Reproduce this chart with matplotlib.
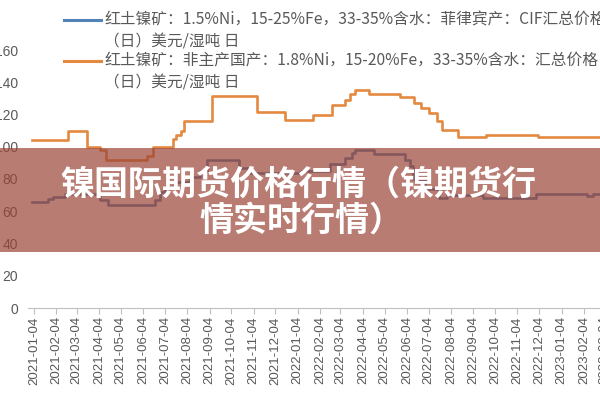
import matplotlib
matplotlib.use('Agg')
import matplotlib.pyplot as plt
import matplotlib.dates as mdates
from matplotlib.lines import Line2D
from matplotlib.patches import Rectangle
import pandas as pd

plt.rcParams['font.family'] = ['Liberation Sans', 'Noto Sans CJK SC', 'DejaVu Sans']

# step series (date where a new level starts, level)
ph_dates = ['2021-01-01', '2021-01-23', '2021-01-30', '2021-02-16', '2021-04-05',
            '2021-04-16', '2021-06-20', '2021-06-27', '2021-07-04', '2021-07-18',
            '2021-08-08', '2021-08-22', '2021-09-01', '2021-10-14', '2021-10-30',
            '2022-01-08', '2022-02-18', '2022-03-10', '2022-03-20', '2022-03-24',
            '2022-04-20', '2022-06-01', '2022-06-08', '2022-06-12', '2022-06-29',
            '2022-07-19', '2022-07-29', '2022-09-17', '2022-11-30', '2023-02-08',
            '2023-02-16', '2023-06-30']
ph_values = [66, 67.5, 69, 71, 67, 64, 67, 72, 75, 78, 81, 85, 92, 87, 84,
             85, 89, 93, 96, 98, 95.5, 92, 88, 80, 74, 68.5, 70, 68.5, 71, 69.5,
             71, 71]

other_dates = ['2021-01-01', '2021-02-20', '2021-03-19', '2021-04-05', '2021-04-13',
               '2021-06-09', '2021-06-17', '2021-07-15', '2021-07-20', '2021-07-27',
               '2021-07-31', '2021-09-07', '2021-11-08', '2021-12-17', '2022-01-25',
               '2022-02-21', '2022-03-10', '2022-03-17', '2022-03-24', '2022-04-13',
               '2022-05-25', '2022-06-14', '2022-06-24', '2022-07-05', '2022-07-16',
               '2022-07-22', '2022-08-13', '2022-09-22', '2022-12-02', '2023-06-30']
other_values = [104, 109.5, 100, 98, 91.5, 94.5, 100, 104.5, 107.5, 109.5,
                116, 131.5, 121.5, 116.5, 120, 126, 129, 132.5, 135.5, 133,
                131, 127, 124, 121, 116, 110.5, 106, 107.5, 106, 106]

tick_dates = pd.date_range('2021-01-01', '2023-03-01', freq='MS') + pd.Timedelta(days=3)
y_ticks = [0, 20, 40, 60, 80, 100, 120, 140, 160]

label_ph = '红土镍矿：1.5%Ni，15-25%Fe，33-35%含水：菲律宾产：CIF汇总价格'
label_other = '红土镍矿：非主产国产：1.8%Ni，15-20%Fe，33-35%含水：汇总价格'
label_unit = '（日）美元/湿吨 日'
banner1 = '镍国际期货价格行情（镍期货行'
banner2 = '情实时行情）'

blue = '#5283b8'
orange = '#e38a40'
grey = '#595959'

fig = plt.figure(figsize=(6, 4), dpi=100)
# the chart is cropped on the right, so the axes run past the figure edge
ax = fig.add_axes([27.5 / 600, 92 / 400, 662 / 600, 290.25 / 400])

ax.plot(pd.to_datetime(ph_dates), ph_values, drawstyle='steps-post',
        color=blue, lw=1.9)
ax.plot(pd.to_datetime(other_dates), other_values, drawstyle='steps-post',
        color=orange, lw=1.9)

ax.set_xlim(pd.Timestamp('2020-12-26'), pd.Timestamp('2023-06-30'))
ax.set_ylim(0, 180)
ax.set_yticks(y_ticks)
ax.set_xticks(tick_dates)
ax.xaxis.set_major_formatter(mdates.DateFormatter('%Y-%m-%d'))
ax.tick_params(axis='x', rotation=90, labelsize=9.5, colors=grey,
               length=4, color='#bfbfbf', pad=2)
ax.tick_params(axis='y', labelsize=10, colors=grey, length=0, pad=7)
for s in ['top', 'right', 'left']:
    ax.spines[s].set_visible(False)
ax.spines['bottom'].set_color('#bfbfbf')

# legend, drawn by hand so the line sits on the first text row
cjk = ['Noto Sans CJK SC', 'DejaVu Sans']
for ypx, col, lab in [(20, blue, label_ph), (61, orange, label_other)]:
    yf = 1 - ypx / 400
    fig.add_artist(Line2D([64 / 600, 101 / 600], [yf, yf], color=col, lw=2.2,
                          transform=fig.transFigure))
    fig.text(104 / 600, yf, lab, fontsize=11.3, color=grey, family=cjk,
             va='center', ha='left')
    fig.text(104 / 600, yf - 22 / 400, label_unit, fontsize=11.3, color=grey,
             family=cjk, va='center', ha='left')

# title banner over the middle of the chart
fig.add_artist(Rectangle((0, (400 - 252) / 400), 1, 104 / 400,
                         transform=fig.transFigure, color='#9b4537',
                         alpha=0.7, lw=0, zorder=5))
fig.text(0.497, 1 - 184 / 400, banner1, fontsize=24.5, fontweight='bold',
         color='white', family=cjk, ha='center', va='center', zorder=6)
fig.text(0.503, 1 - 220 / 400, banner2, fontsize=24.5, fontweight='bold',
         color='white', family=cjk, ha='center', va='center', zorder=6)

fig.savefig('out.png', dpi=100)
